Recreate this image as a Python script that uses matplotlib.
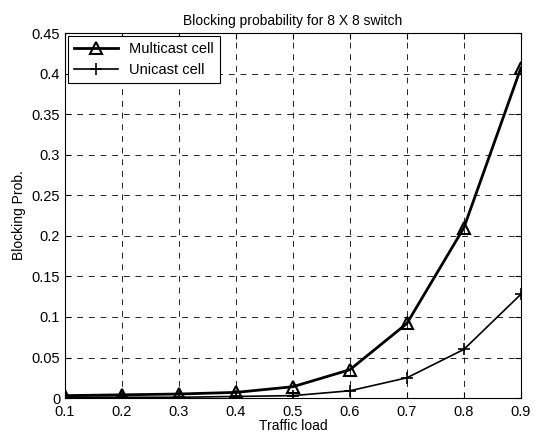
import matplotlib.pyplot as plt

# traffic load vs blocking probability
load = [0.1, 0.2, 0.3, 0.4, 0.5, 0.6, 0.7, 0.8, 0.9]
multicast = [0.003, 0.004, 0.005, 0.007, 0.014, 0.035, 0.092, 0.21, 0.407]
unicast = [0.001, 0.001, 0.001, 0.002, 0.003, 0.009, 0.025, 0.06, 0.128]

plt.rcParams['font.family'] = ['Liberation Sans', 'DejaVu Sans']

fig = plt.figure(figsize=(5.42, 4.36), dpi=100)
ax = fig.add_axes([0.12, 0.087, 0.841, 0.837])

ax.plot(load, multicast, color='black', linewidth=2, marker='^', markersize=8,
        markerfacecolor='none', markeredgewidth=1.5, label='Multicast cell')
ax.plot(load, unicast, color='black', linewidth=1.2, marker='+', markersize=9,
        markeredgewidth=1.2, label='Unicast cell')

ax.set_xlim(0.1, 0.9)
ax.set_ylim(0, 0.45)
ax.set_xticks(load)
ax.set_xticklabels(['0.1', '0.2', '0.3', '0.4', '0.5', '0.6', '0.7', '0.8', '0.9'])
ax.set_yticks([0, 0.05, 0.1, 0.15, 0.2, 0.25, 0.3, 0.35, 0.4, 0.45])
ax.set_yticklabels(['0', '0.05', '0.1', '0.15', '0.2', '0.25', '0.3', '0.35', '0.4', '0.45'])
ax.tick_params(direction='in', labelsize=10.5, length=4, top=True, right=True)
ax.tick_params(axis='x', pad=5)
ax.grid(True, linestyle=(0, (7, 7)), color='black', linewidth=0.6)

ax.set_title('Blocking probability for 8 X 8 switch', fontsize=10)
ax.set_xlabel('Traffic load', fontsize=10, labelpad=0)
ax.set_ylabel('Blocking Prob.', fontsize=10)

leg = ax.legend(loc='upper left', fontsize=10.5, fancybox=False, framealpha=1,
                edgecolor='black', borderaxespad=0.2, handlelength=3)
leg.get_frame().set_linewidth(0.8)

plt.savefig('out.png', dpi=100)
